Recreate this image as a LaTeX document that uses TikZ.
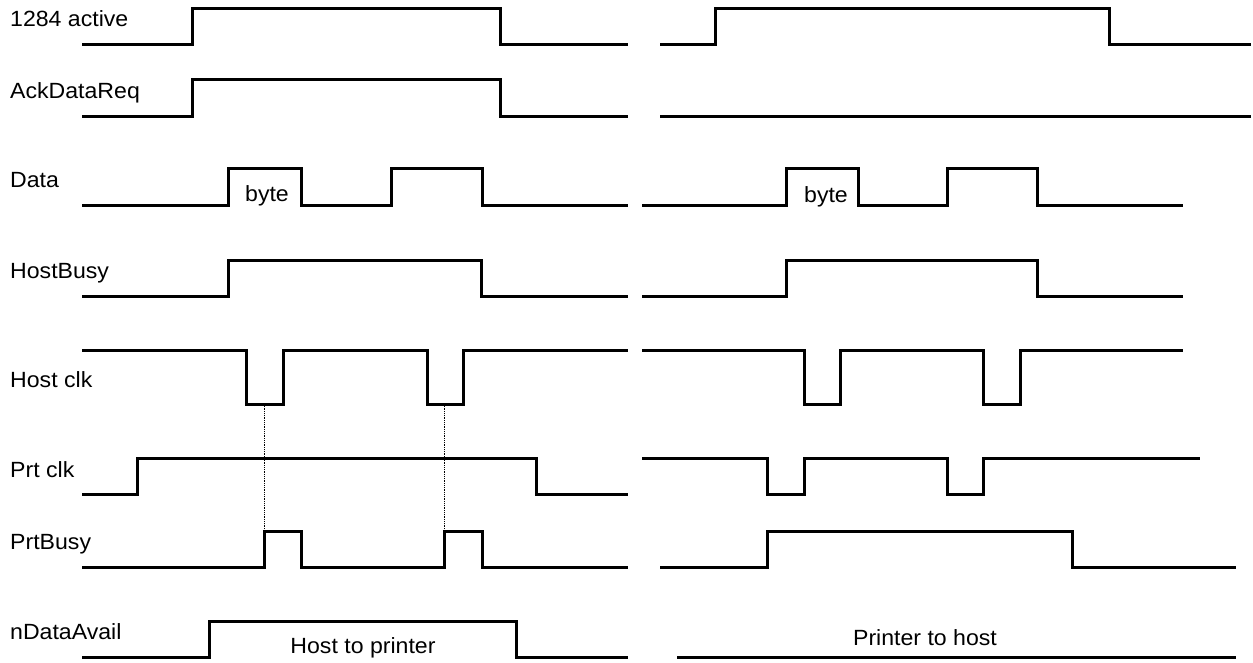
\documentclass[tikz,border=0pt]{standalone}
\usepackage{fontspec}
\setmainfont[FakeStretch=1.05]{Liberation Sans}
\usetikzlibrary{positioning}

\begin{document}
\begin{tikzpicture}[x=1pt, y=-1pt]
		\tikzstyle{wave} = [line width=3pt, line join=miter]
		\tikzstyle{signame} = [anchor=base west, inner sep=0pt, font=\fontsize{22}{26}\selectfont]
		\tikzstyle{note} = [anchor=base, inner sep=0pt, font=\fontsize{22}{26}\selectfont]
		\tikzstyle{guide} = [densely dotted, line width=0.8pt]
		\useasboundingbox (0,0) rectangle (1253,663);

		% signal names
		\node (active) [signame] at (10,27) {1284 active};
		\node (ackreq) [signame] at (10,99) {AckDataReq};
		\node (data) [signame] at (10,188) {Data};
		\node (hostbusy) [signame] at (10,278) {HostBusy};
		\node (hostclk) [signame] at (10,387) {Host clk};
		\node (prtclk) [signame] at (10,477) {Prt clk};
		\node (prtbusy) [signame] at (10,549) {PrtBusy};
		\node (ndata) [signame] at (10,639) {nDataAvail};

		% host to printer
		\draw [wave] (82,45) -| (192,9) -| (500,45) -- (628,45);
		\draw [wave] (82,117) -| (192,80) -| (500,117) -- (628,117);
		\draw [wave] (82,206) -| (228,169) -| (301,206) -| (391,169) -| (482,206) -- (628,206);
		\draw [wave] (82,296) -| (228,260) -| (481,296) -- (628,296);
		\draw [wave] (82,350) -| (246,404) -| (283,350) -| (427,404) -| (463,350) -- (628,350);
		\draw [wave] (82,494) -| (137,458) -| (536,494) -- (628,494);
		\draw [wave] (82,567) -| (264,531) -| (301,567) -| (444,531) -| (482,567) -- (628,567);
		\draw [wave] (82,657) -| (209,621) -| (516,657) -- (628,657);
		\node (byteA) [note] at (267,202) {byte};
		\node (dirA) [note] at (363,653) {Host to printer};

		\coordinate (clkA) at (264,404);
		\coordinate (busyA) at (264,531);
		\coordinate (clkB) at (444,404);
		\coordinate (busyB) at (444,531);
		\draw [guide] (clkA) -- (busyA);
		\draw [guide] (clkB) -- (busyB);

		% printer to host
		\draw [wave] (660,45) -| (715,9) -| (1109,45) -- (1251,45);
		\draw [wave] (660,117) -- (1251,117);
		\draw [wave] (642,206) -| (786,169) -| (858,206) -| (947,169) -| (1037,206) -- (1183,206);
		\draw [wave] (642,296) -| (786,260) -| (1037,296) -- (1183,296);
		\draw [wave] (642,350) -| (804,404) -| (840,350) -| (983,404) -| (1020,350) -- (1183,350);
		\draw [wave] (642,458) -| (767,494) -| (804,458) -| (947,494) -| (983,458) -- (1200,458);
		\draw [wave] (660,567) -| (767,531) -| (1072,567) -- (1236,567);
		\draw [wave] (677,657) -- (1236,657);
		\node (byteB) [note] at (826,203) {byte};
		\node (dirB) [note] at (925,645) {Printer to host};

	\end{tikzpicture}
\end{document}
